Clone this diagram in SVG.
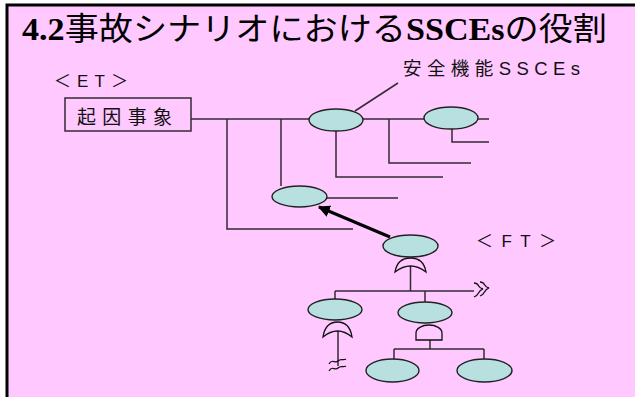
<svg xmlns="http://www.w3.org/2000/svg" width="635" height="397" viewBox="0 0 635 397">
<defs>
<style>
.ln{fill:none;stroke:#332a33;stroke-width:1.5}
.el{fill:#b8e0e0;stroke:#222;stroke-width:1.4}
.gate{fill:none;stroke:#111;stroke-width:1.3}
.sans{font-family:"Liberation Sans","Noto Sans CJK JP",sans-serif;fill:#111}
.title{font-family:"Liberation Serif","Noto Sans CJK JP",serif;fill:#000}
.lat{font-weight:bold}
.cjk{font-family:"Noto Sans CJK JP",sans-serif;font-weight:400}
</style>
<marker id="ah" viewBox="0 0 10 10" refX="9" refY="5" markerWidth="4" markerHeight="4" orient="auto" markerUnits="strokeWidth">
<path d="M0,0 L10,5 L0,10 Z" fill="#000"/>
</marker>
</defs>
<rect x="0" y="0" width="635" height="397" fill="#fff"/>
<rect x="7" y="5" width="628" height="392" fill="#ffc8ff"/>
<path d="M7,397 V5 H635" fill="none" stroke="#000" stroke-width="3"/>
<text class="title" x="22" y="40" font-size="32" textLength="585" lengthAdjust="spacingAndGlyphs"><tspan class="lat">4.2</tspan><tspan class="cjk">事故シナリオにおける</tspan><tspan class="lat">SSCEs</tspan><tspan class="cjk">の役割</tspan></text>
<text class="sans" x="403" y="75" font-size="18.5" textLength="177" lengthAdjust="spacing">安全機能SSCEs</text>
<text class="sans" x="54" y="87" font-size="17" textLength="74" lengthAdjust="spacing">＜ET＞</text>
<text class="sans" x="476" y="247" font-size="17" textLength="80" lengthAdjust="spacing">＜FT＞</text>
<g id="connectors">
<path class="ln" d="M191,119 H489"/>
<path class="ln" d="M227,119 V229 H353"/>
<path class="ln" d="M281,119 V186"/>
<path class="ln" d="M327,198 H398"/>
<path class="ln" d="M336,131 V177 H443"/>
<path class="ln" d="M389,119 V163 H471"/>
<path class="ln" d="M452,129 V142 H489"/>
<path class="ln" d="M355,111 L398,83" stroke-width="1.2"/>
<path d="M390,237 L319,207" fill="none" stroke="#000" stroke-width="3" marker-end="url(#ah)"/>
<path class="ln" d="M410.5,266 V291"/>
<path class="ln" d="M335,291 H474"/>
<path class="ln" d="M335,291 V299"/>
<path class="ln" d="M425,291 V302"/>
<path class="ln" d="M338,331 V366"/>
<path class="ln" d="M430,340 V349"/>
<path class="ln" d="M394,349 H484"/>
<path class="ln" d="M394,349 V359"/>
<path class="ln" d="M484,349 V359"/>
<g class="gate" id="break1">
<path d="M474,283 C480,283 477,288 483,289 C477,291 480,295 474,297"/>
<path d="M480,282 C486,282 483,287 489,288 C483,290 486,294 480,296"/>
</g>
<g class="gate" id="break2">
<path d="M329,364 C332,358 335,364 338,361 C341,358 343,361 346,359"/>
<path d="M329,371 C332,365 335,371 338,368 C341,365 343,368 346,366"/>
</g>
</g>
<g id="initiating-event">
<rect x="65" y="98" width="126" height="33" fill="none" stroke="#332a33" stroke-width="1.5"/>
<text class="sans" x="77" y="124" font-size="19" textLength="95" lengthAdjust="spacing">起因事象</text>
</g>
<g id="et-node1"><ellipse class="el" cx="336" cy="120" rx="27" ry="11"/></g>
<g id="et-node2"><ellipse class="el" cx="451" cy="118" rx="27" ry="11"/></g>
<g id="et-node3"><ellipse class="el" cx="299.5" cy="196.5" rx="27.5" ry="10.5"/></g>
<g id="ft-top"><ellipse class="el" cx="410.5" cy="246" rx="27.5" ry="11"/></g>
<g id="ft-or1"><path class="gate" d="M395,272 C396.5,263 402,258 410.5,258 C419,258 424.5,263 426,272 Q410.5,260 395,272 Z"/></g>
<g id="ft-node5"><ellipse class="el" cx="335" cy="309.5" rx="27" ry="10.5"/></g>
<g id="ft-node6"><ellipse class="el" cx="425" cy="312.5" rx="27" ry="10.5"/></g>
<g id="ft-or2"><path class="gate" d="M323,337 C324.5,327 330,322 337.5,322 C345,322 350.5,327 352,337 Q337.5,325 323,337 Z"/></g>
<g id="ft-and"><path class="gate" d="M416,340 V333 A13,8 0 0 1 442,333 V340 Z"/></g>
<g id="ft-node7"><ellipse class="el" cx="392.5" cy="370.5" rx="26.5" ry="11.5"/></g>
<g id="ft-node8"><ellipse class="el" cx="484.5" cy="370.5" rx="27.5" ry="11.5"/></g>
</svg>
